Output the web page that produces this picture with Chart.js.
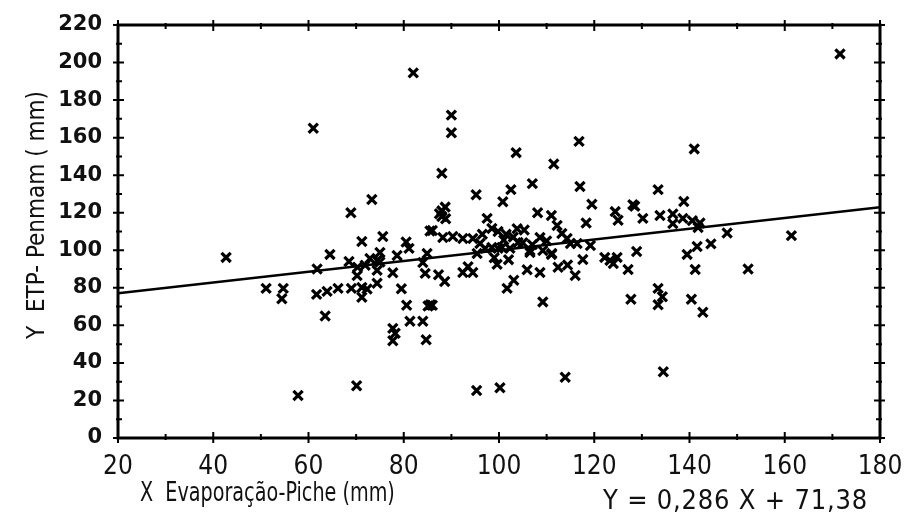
<!DOCTYPE html>
<html>
<head>
<meta charset="utf-8">
<script src="https://cdn.jsdelivr.net/npm/chart.js@4.4.0/dist/chart.umd.min.js"></script>
<style>
  html, body { margin: 0; padding: 0; background: #fff; }
  #wrap { width: 905px; height: 523px; }
</style>
</head>
<body>
<div id="wrap"><canvas id="chart" width="905" height="523"></canvas></div>
<script>
// Evaporação-Piche (X) contra ETP-Penmam (Y), em mm
const xValues = [
  171.6, 82, 61, 90, 90, 88, 103.6, 111.5, 116.8, 107, 117, 102.5, 95.2, 73.3, 68.9,
  141, 133.4, 138.8, 128.1, 128.5, 124.4, 125, 119.5, 100.8, 108.1, 111, 118.3, 130.2,
  133.8, 136.5, 136.5, 138.6, 140.6, 142.2, 141.8, 147.9, 161.4, 152.3, 141.2, 140.4,
  142.8, 133.4, 134.3, 133.4, 127.7, 127.1, 128.9, 139.5, 141.6, 144.5, 134.5, 113.9,
  100.2, 95.3, 70.1, 57.8, 42.7, 51.1, 54.7, 54.4, 61.8, 61.7, 63.9, 63.5, 64.5, 66.2,
  69, 71.2, 72.3, 71.2, 74.4, 70.2, 68.5, 70.3, 71.9, 74.4, 75, 72.9, 74.4, 75, 71.2,
  75.6, 78.6, 77.7, 79.5, 80.6, 81.3, 84, 84.7, 85.1, 85.6, 77.7, 78.2, 77.7, 80.5,
  81.1, 85.5, 84.5, 84, 84.9, 87.3, 88.6, 86, 92.4, 94.5, 93.5, 99.6, 101.7, 103.1,
  105.9, 108.6, 109.2, 112.4, 114.4, 116, 117.6, 122.2, 124.8, 124, 123.3, 119.2, 111,
  106.5, 99.8, 88, 88, 88.7, 87.5, 88.8, 97.5, 98.5, 99.8, 103.8, 105.3, 112.2, 113.2,
  114.3, 108.6, 115, 116.4, 86, 88.2, 90.3, 92.4, 94.5, 96, 97.1, 98.5, 100.6, 102.3,
  104, 106.5, 111.1, 109.2, 95.4, 101, 103, 107, 110, 96.5, 101.5, 105, 99, 102
];
const yValues = [
  204.6, 194.5, 165, 172, 162.6, 141, 152, 146, 158, 135.5, 134, 132.3, 129.6, 127, 120,
  154, 132.3, 126, 124.3, 123.5, 120.6, 116, 124.5, 125.8, 120, 118.5, 114.5, 117,
  118.5, 119.3, 114.2, 117, 115.8, 114.5, 112.1, 109.2, 107.8, 90, 89.8, 73.9,
  67, 79.7, 75.2, 71, 73.9, 89.8, 99.3, 97.8, 102, 103.4, 35.3, 32.4,
  26.8, 25.3, 27.8, 22.6, 96.2, 79.7, 79.7, 74.2, 90, 76.5, 78.1, 65, 97.8, 79.7,
  79.7, 80.2, 79.4, 75, 82.4, 86.5, 94, 91, 92, 89.3, 93.8, 95.6, 94.6, 98.8, 104.7,
  107.3, 97.2, 88, 79.5, 70.7, 62.2, 62.2, 52.3, 70.3, 71, 58.4, 55.8, 51.8, 104.4,
  101, 110.3, 87.7, 93.5, 98.3, 87, 83.4, 70.7, 88.2, 88.2, 91.2, 92.5, 79.7, 84,
  89.6, 88.2, 72.5, 91, 92.2, 86.6, 95.1, 96.2, 96.2, 93, 94.6, 102.5, 97.8,
  98.8, 101, 118, 121, 123, 119.5, 116.8, 117, 111.6, 110, 111.5, 110.8, 113.2, 108.9,
  106.3, 106.8, 103.6, 103.6, 110.5, 106.8, 107.3, 106.3, 106.3, 103.6, 101, 101.5, 101.5, 101,
  104.1, 99.9, 98.3, 99.9, 98.3, 105.5, 107, 103, 105, 108.5, 108.5, 104, 96, 95
];

// reta de regressão Y = 0,286 X + 71,38
const lineX = [20, 180];
const lineY = [77.1, 122.9];

const xTicks = [20, 40, 60, 80, 100, 120, 140, 160, 180];
const yTicks = [0, 20, 40, 60, 80, 100, 120, 140, 160, 180, 200, 220];

const xTitle = 'X  Evaporação-Piche (mm)';
const yTitle = 'Y  ETP- Penmam ( mm)';
const equation = 'Y = 0,286 X + 71,38';

const tickFont = { family: 'DejaVu Sans Condensed', size: 26 };
const yTickFont = { family: 'DejaVu Sans', size: 21, weight: 'bold' };

// moldura, marcas de escala nos quatro lados e textos
const framePlugin = {
    id: 'frame',
    afterDraw(chart) {
        const { ctx, chartArea: a, scales } = chart;
        const xs = scales.x, ys = scales.y;
        ctx.save();
        ctx.strokeStyle = '#000';
        ctx.lineWidth = 3;
        ctx.strokeRect(a.left, a.top, a.right - a.left, a.bottom - a.top);

        ctx.lineWidth = 2;
        for (let v = 20; v <= 180; v += 10) {
            const px = xs.getPixelForValue(v);
            const major = v % 20 === 0;
            const len = major ? 6 : 4;
            ctx.beginPath();
            ctx.moveTo(px, a.bottom - len); ctx.lineTo(px, a.bottom + (major ? 5 : 2));
            ctx.moveTo(px, a.top + len); ctx.lineTo(px, a.top - (major ? 5 : 2));
            ctx.stroke();
        }
        for (let v = 0; v <= 220; v += 10) {
            const py = ys.getPixelForValue(v);
            const major = v % 20 === 0;
            const len = major ? 6 : 4;
            ctx.beginPath();
            ctx.moveTo(a.left + len, py); ctx.lineTo(a.left - (major ? 5 : 2), py);
            ctx.moveTo(a.right - len, py); ctx.lineTo(a.right + (major ? 5 : 2), py);
            ctx.stroke();
        }

        ctx.fillStyle = '#111';
        ctx.textBaseline = 'middle';
        ctx.textAlign = 'left';
        ctx.font = '27px "DejaVu Sans Condensed"';
        ctx.letterSpacing = '0.8px';
        ctx.fillText(equation, 603, 502);
        ctx.letterSpacing = '0px';

        // título do eixo X, estreitado como a fonte original
        ctx.save();
        ctx.translate(140, 494);
        ctx.scale(0.82, 1);
        ctx.font = '26px "DejaVu Sans Condensed"';
        ctx.fillText(xTitle, 0, 0);
        ctx.restore();

        ctx.translate(38, 215);
        ctx.rotate(-Math.PI / 2);
        ctx.textAlign = 'center';
        ctx.font = '24px "DejaVu Sans Condensed"';
        ctx.fillText(yTitle, 0, 0);
        ctx.restore();
    }
};

new Chart(document.getElementById('chart'), {
    type: 'scatter',
    data: {
        datasets: [
            {
                type: 'line',
                data: lineX.map((x, i) => ({ x, y: lineY[i] })),
                borderColor: '#000',
                borderWidth: 2.5,
                pointRadius: 0,
                fill: false
            },
            {
                data: xValues.map((x, i) => ({ x, y: yValues[i] })),
                pointStyle: 'crossRot',
                pointRadius: 6.5,
                borderColor: '#000',
                borderWidth: 3.2,
                backgroundColor: '#000'
            }
        ]
    },
    options: {
        responsive: false,
        animation: false,
        layout: { padding: { top: 25, right: 25, left: 0, bottom: 0 } },
        plugins: {
            legend: { display: false },
            tooltip: { enabled: false }
        },
        scales: {
            x: {
                type: 'linear',
                min: 20,
                max: 180,
                afterBuildTicks: s => { s.ticks = xTicks.map(v => ({ value: v })); },
                afterFit: s => { s.height = 85; s.paddingLeft = 0; s.paddingRight = 0; },
                grid: { display: false },
                border: { display: false },
                ticks: { color: '#111', font: tickFont, padding: 6, maxRotation: 0 }
            },
            y: {
                type: 'linear',
                min: 0,
                max: 220,
                afterBuildTicks: s => { s.ticks = yTicks.map(v => ({ value: v })); },
                afterFit: s => { s.width = 118; s.paddingTop = 0; s.paddingBottom = 0; },
                grid: { display: false },
                border: { display: false },
                ticks: { color: '#111', font: yTickFont, padding: 8 }
            }
        }
    },
    plugins: [framePlugin]
});
</script>
</body>
</html>
